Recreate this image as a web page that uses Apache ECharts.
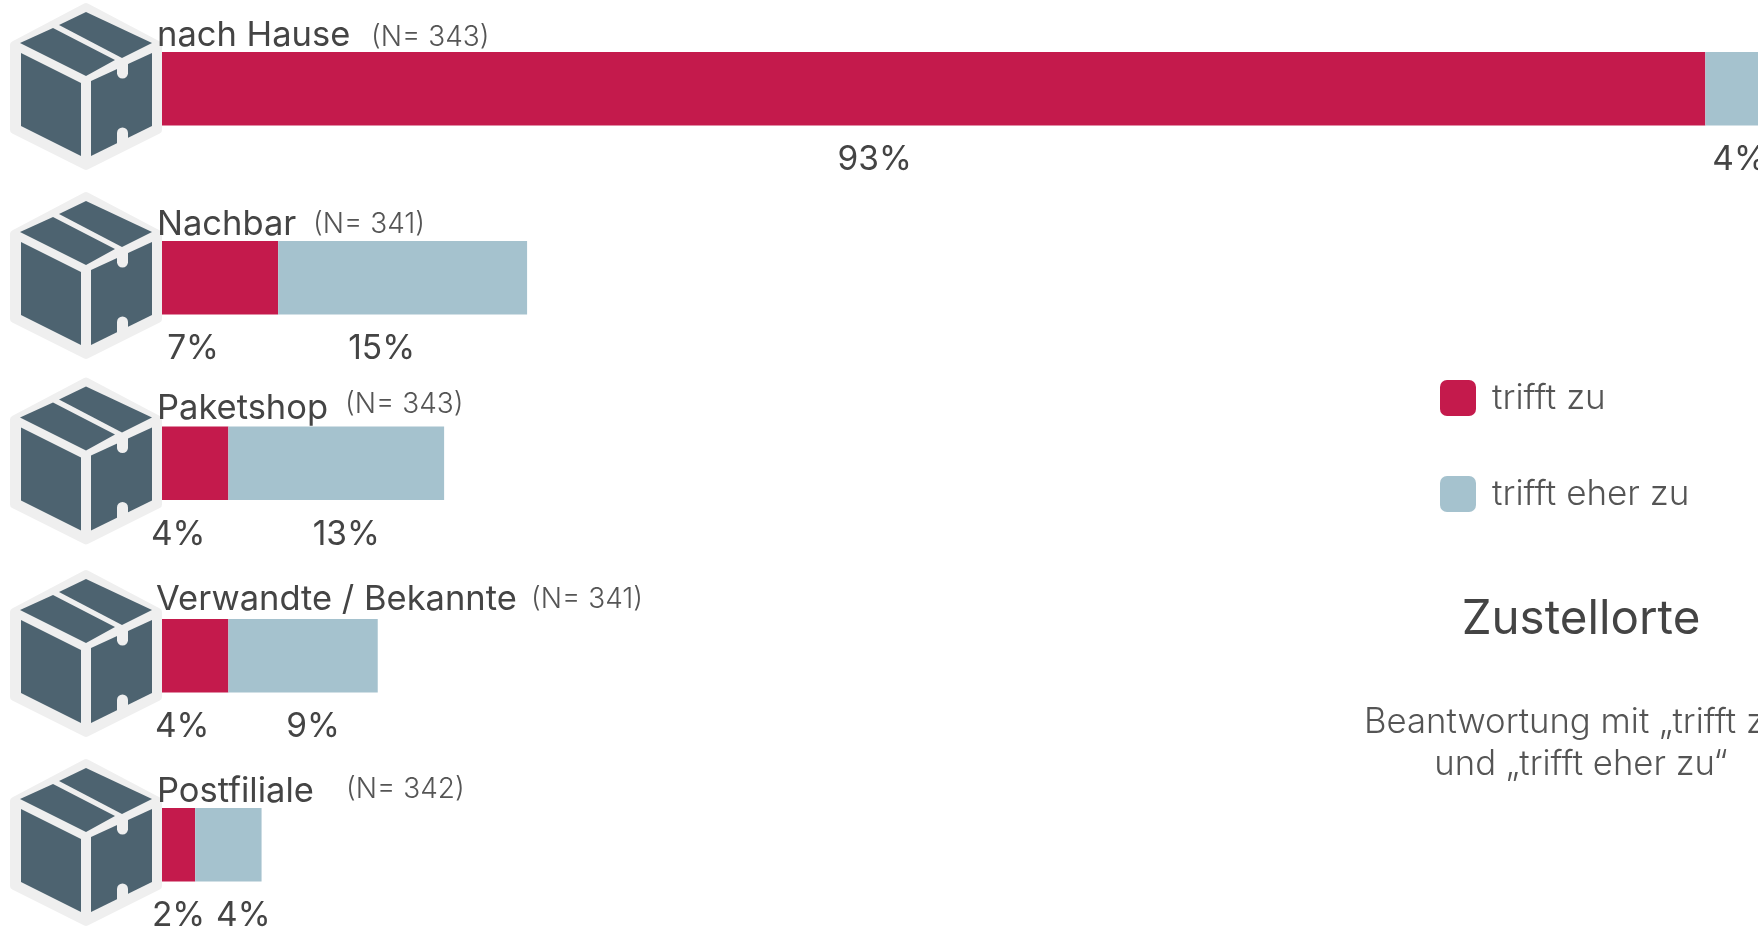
<!DOCTYPE html>
<html lang="de">
<head>
<meta charset="utf-8">
<title>Zustellorte</title>
<style>
  html, body { margin: 0; padding: 0; background: #fff; overflow: hidden; }
  #chart { width: 1758px; height: 928px; }
</style>
<script src="https://cdn.jsdelivr.net/npm/echarts@6/dist/echarts.min.js"></script>
</head>
<body>
<div id="chart"></div>
<script>
// Survey values
const categories = ['nach Hause', 'Nachbar', 'Paketshop', 'Verwandte / Bekannte', 'Postfiliale'];
const sampleSizes = [343, 341, 343, 341, 342];
const trifftZu = [93, 7, 4, 4, 2];
const trifftEherZu = [4, 15, 13, 9, 4];
const seriesNames = ['trifft zu', 'trifft eher zu'];

// Layout of the rows
const rowTops = [52, 241, 426.5, 619, 808];
const rowHeight = 73.5;
const plotLeft = 162;
const plotWidth = 1659.5;           // 100 % on the value scale, runs past the right edge
const nameCentreY = [36, 225, 409, 600, 792];
const nameX = [157, 157, 157, 156, 157];
const countX = [371, 313, 345, 531, 346];
const countCentreY = [38, 225, 405, 600, 790];
const redLabelShift = [-59, -27, -17, -13, 0];
const blueLabelShift = [1, -21, 10, 10, 15];

const RED = '#c41a4c';
const BLUE = '#a5c2ce';
const INK = '#444444';
const INK_LIGHT = '#555555';
const BOX_DARK = '#4d6370';
const BOX_RIM = '#efefef';
const FONT = 'Inter, "Noto Sans", sans-serif';

// Parcel icon: outer rim, four dark faces, and the two tape notches on the right face
function parcelIcon(offsetY) {
  const dark = (points) => ({ type: 'polygon', shape: { points: points }, style: { fill: BOX_DARK } });
  const notch = (rectY, rectH, circleY) => [
    { type: 'rect', shape: { x: 117, y: rectY, width: 11, height: rectH }, style: { fill: BOX_RIM } },
    { type: 'circle', shape: { cx: 122.5, cy: circleY, r: 5.5 }, style: { fill: BOX_RIM } }
  ];
  return {
    type: 'group',
    x: 0,
    y: offsetY,
    silent: true,
    children: [
      {
        type: 'polygon',
        shape: { points: [[86, 7], [158, 45], [158, 130], [86, 166], [14, 130], [14, 45]] },
        style: { fill: BOX_RIM, stroke: BOX_RIM, lineWidth: 8, lineJoin: 'round' }
      },
      dark([[86, 12], [152, 43], [122, 58], [59, 25]]),
      dark([[53, 28], [115, 60], [86, 76], [20, 43]]),
      dark([[21, 53], [81, 83], [81, 156], [21, 126]]),
      dark([[91, 81], [152, 53], [152, 126], [91, 156]]),
      ...notch(60, 14, 73),
      ...notch(133, 14, 133)
    ]
  };
}

const grids = categories.map((_, i) => ({
  left: plotLeft,
  top: rowTops[i],
  width: plotWidth,
  height: rowHeight,
  containLabel: false,
  outerBoundsMode: 'none'
}));

const xAxes = categories.map((_, i) => ({
  type: 'value',
  gridIndex: i,
  min: 0,
  max: 100,
  show: false
}));

const yAxes = categories.map((name, i) => ({
  type: 'category',
  gridIndex: i,
  data: [name],
  show: false
}));

function barSeries(name, values, color, shifts) {
  return values.map((value, i) => ({
    name: name,
    type: 'bar',
    stack: 'row' + i,
    xAxisIndex: i,
    yAxisIndex: i,
    barWidth: '100%',
    itemStyle: { color: color },
    label: {
      show: true,
      position: 'bottom',
      distance: 17.5,
      offset: [shifts[i], 0],
      formatter: '{c}%',
      color: INK,
      fontFamily: FONT,
      fontSize: 33.5,
      fontWeight: 400
    },
    data: [value]
  }));
}

const rowTexts = categories.flatMap((name, i) => [
  {
    type: 'text',
    x: nameX[i],
    y: nameCentreY[i],
    silent: true,
    style: { text: name, font: '400 34.5px ' + FONT, fill: INK, verticalAlign: 'middle' }
  },
  {
    type: 'text',
    x: countX[i],
    y: countCentreY[i],
    silent: true,
    style: { text: '(N= ' + sampleSizes[i] + ')', font: '300 28px ' + FONT, fill: INK_LIGHT, verticalAlign: 'middle' }
  }
]);

const option = {
  animation: false,
  backgroundColor: '#ffffff',
  title: {
    text: 'Zustellorte',
    subtext: 'Beantwortung mit „trifft zu“\nund „trifft eher zu“',
    left: 1581,
    top: 596,
    padding: 0,
    textAlign: 'center',
    itemGap: 57,
    textStyle: { color: INK, fontFamily: FONT, fontSize: 47.5, fontWeight: 400 },
    subtextStyle: { color: INK_LIGHT, fontFamily: FONT, fontSize: 34.7, fontWeight: 300, lineHeight: 42.6, align: 'center' }
  },
  legend: {
    orient: 'vertical',
    left: 1440,
    top: 380,
    padding: 0,
    itemWidth: 36,
    itemHeight: 36,
    itemGap: 60,
    selectedMode: false,
    icon: 'path://M7 0H29A7 7 0 0 1 36 7V29A7 7 0 0 1 29 36H7A7 7 0 0 1 0 29V7A7 7 0 0 1 7 0Z',
    textStyle: { color: INK_LIGHT, fontFamily: FONT, fontSize: 35, fontWeight: 300, padding: [0, 0, 0, 11] },
    data: seriesNames
  },
  grid: grids,
  xAxis: xAxes,
  yAxis: yAxes,
  series: [
    ...barSeries(seriesNames[0], trifftZu, RED, redLabelShift),
    ...barSeries(seriesNames[1], trifftEherZu, BLUE, blueLabelShift)
  ],
  graphic: [
    ...rowTops.map((top) => parcelIcon(top - rowTops[0])),
    ...rowTexts
  ]
};

echarts.init(document.getElementById('chart')).setOption(option);
</script>
</body>
</html>
